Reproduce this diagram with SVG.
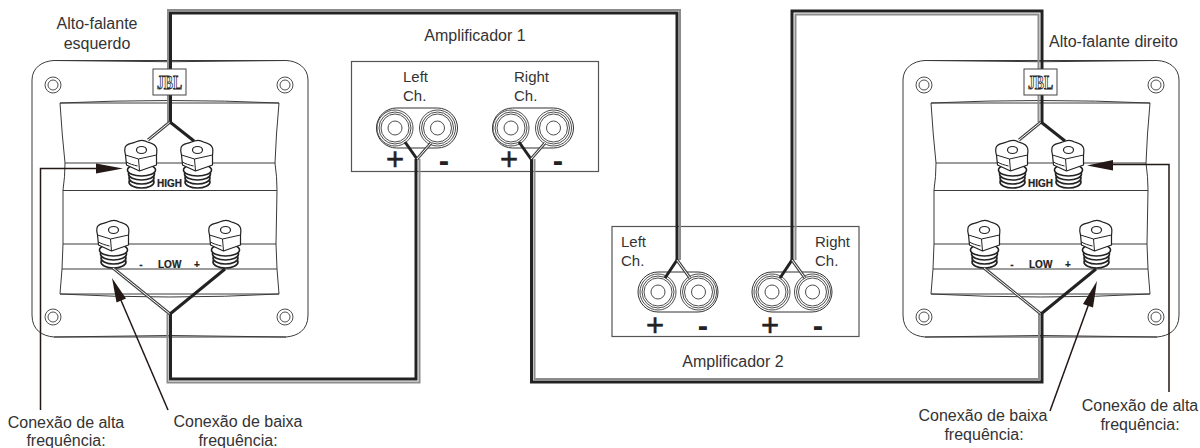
<svg xmlns="http://www.w3.org/2000/svg" xmlns:xlink="http://www.w3.org/1999/xlink" width="1200" height="448" viewBox="0 0 1200 448">
<style>
text{font-family:"Liberation Sans",Arial,sans-serif;font-size:16px;fill:#333}
.m{text-anchor:middle}
.s{font-size:15px}
.b{font-weight:bold;font-size:10px;fill:#222;stroke:#222;stroke-width:.2}
.ps{font-size:31px;fill:#222;stroke:#222;stroke-width:.5;text-anchor:middle}
.ms{font-size:31px;font-weight:bold;fill:#222;text-anchor:middle}
.ln{fill:none;stroke:#3a3a3a;stroke-width:1}
.pl{fill:#fff;stroke:#3a3a3a;stroke-width:1}
.pt{fill:#fff;stroke:#222;stroke-width:1.2;stroke-linejoin:round}
.th{fill:#fff;stroke:#222;stroke-width:1.6}
.hx{fill:none;stroke:#222;stroke-width:1}
.k{fill:none;stroke:#222;stroke-width:3;stroke-linejoin:miter}
.g{fill:none;stroke:#8c8c8c;stroke-width:2}
.d1{fill:none;stroke:#444;stroke-width:3}
.d2{fill:none;stroke:#fff;stroke-width:1}
.ar{fill:none;stroke:#231815;stroke-width:1.5}
.ah{fill:#231815}
.box{fill:#fff;stroke:#555;stroke-width:1.2}
.c{fill:#fff;stroke:#3a3a3a;stroke-width:.9}
.jb{font-family:"Liberation Serif",serif;font-weight:bold;font-size:19px;fill:#fff;stroke:#222;stroke-width:.9}
</style>
<defs>
<g id="post">
<ellipse class="th" cx="0" cy="32" rx="12.500" ry="6"/>
<ellipse class="th" cx="0" cy="28" rx="12.500" ry="6"/>
<ellipse class="th" cx="0" cy="24" rx="13" ry="6"/>
<ellipse class="th" cx="0" cy="20" rx="14" ry="6"/>
<path class="pt" d="M-16.500,-2C-16,-7 -10,-6 -6,-8C-2,-10 3,-10 6,-8C9,-7 14,-6 15,-2C16,1 15,3 15,6L15,15L-2,21L-15,15L-16,5C-17,2 -17,0 -16.500,-2Z"/>
<path class="hx" d="M-16,5L-3,9L15,5M-3,9L-2,21M-15,12C-12,14 -8,15 -4,16"/>
<ellipse class="pt" cx="0" cy="0" rx="5" ry="3.500"/>
</g>
<g id="screw"><circle class="c" r="8"/><circle class="c" r="5"/></g>
<g id="logo">
<rect x="153" y="69" width="33" height="26" fill="#fff" stroke="#444" stroke-width="1"/>
<text class="jb m" x="169.500" y="89" textLength="25" lengthAdjust="spacingAndGlyphs">JBL</text>
</g>
<g id="plate">
<path class="pl" d="M32,80C32,68 42,61 54,60.500Q170,63 286,60.500C298,61 308,68 308,80L308,315C308,330 298,336 286,337Q170,334 54,337C42,336 32,330 32,315Z"/>
<path class="ln" d="M54,60.500L286,60.500M54,337L286,337"/>
<use href="#screw" x="53" y="85"/><use href="#screw" x="285" y="85"/><use href="#screw" x="53" y="317"/><use href="#screw" x="285" y="317"/>
<path class="pl" d="M60,103Q170,98 279,103Q276,135 275,163Q277,177 277,190L276,244L277,269L279,294Q170,300 60,294L62,269L63,244L63,190Q65,177 65,163Q62,135 60,103Z"/>
<path class="ln" d="M60,103L279,103M60,294L279,294M65,163H275M63,190.500H277M63,244H276M62,269H277"/>
<use href="#post" x="141.500" y="150"/><use href="#post" x="197.500" y="150"/>
<use href="#post" x="113.500" y="230"/><use href="#post" x="225.500" y="230"/>
<text class="b" x="157" y="187">HIGH</text>
<text class="b" x="158" y="268">LOW</text>
<text class="b m" x="141" y="268">-</text>
<text class="b m" x="197" y="268">+</text>
</g>
<g id="jack">
<circle class="c" r="18"/><circle class="c" r="16"/><circle class="c" r="14"/><circle class="c" r="7"/>
</g>
<g id="pair">
<rect x="-18.500" y="-20" width="81" height="40" rx="20" fill="#fff" stroke="#333" stroke-width="1"/>
<use href="#jack"/><use href="#jack" x="42.500"/>
</g>
<g id="pair2">
<rect x="-20" y="-20" width="80" height="40" rx="20" fill="#fff" stroke="#333" stroke-width="1"/>
<use href="#jack"/><use href="#jack" x="40.500"/>
</g>
</defs>

<g id="speaker-left"><use href="#plate"/></g>
<g id="speaker-right"><use href="#plate" x="871"/></g>

<g id="amp-1">
<rect class="box" x="351.500" y="61.500" width="247" height="110"/>
<use href="#pair" x="395" y="128"/><use href="#pair" x="511" y="128"/>
<text class="s" x="403" y="82">Left</text><text class="s" x="403" y="101">Ch.</text>
<text class="s" x="514" y="82">Right</text><text class="s" x="514" y="101">Ch.</text>
<text class="ps" x="395" y="170">+</text><text class="ms" x="444" y="171">-</text>
<text class="ps" x="509" y="170">+</text><text class="ms" x="558" y="171">-</text>
<text class="m" x="475" y="41">Amplificador 1</text>
</g>
<g id="amp-2">
<rect class="box" x="612" y="226.500" width="247" height="110"/>
<use href="#pair2" x="658" y="292"/><use href="#pair2" x="772" y="292"/>
<text class="s" x="621" y="247">Left</text><text class="s" x="621" y="266">Ch.</text>
<text class="s" x="815" y="247">Right</text><text class="s" x="815" y="266">Ch.</text>
<text class="ps" x="655" y="336">+</text><text class="ms" x="703" y="336">-</text>
<text class="ps" x="770" y="336">+</text><text class="ms" x="818" y="336">-</text>
<text class="m" x="733" y="367">Amplificador 2</text>
</g>

<g id="connectors">
<path class="g" d="M168,122V10H680V260"/>
<path class="k" d="M170.500,122V13H677V260"/>
<path class="g" d="M1038.500,122V14.500H795.500V260"/>
<path class="k" d="M1042,122V11H792V260"/>
<path class="g" d="M419.500,159V382.500H167.500V314"/>
<path class="k" d="M416,159V379H170.500V314"/>
<path class="g" d="M534.500,159V379H1039V314"/>
<path class="k" d="M531.500,159V382H1042V314"/>
<path class="d1" d="M170,122L148,140"/><path class="d2" d="M170,122L148,140"/>
<path class="k" d="M170,122L194,141"/>
<path class="d1" d="M170,314L113,268"/><path class="d2" d="M170,314L113,268"/>
<path class="k" d="M170,314L225,269"/>
<path class="d1" d="M1041,122L1019,140"/><path class="d2" d="M1041,122L1019,140"/>
<path class="k" d="M1041,122L1065,141"/>
<path class="d1" d="M1041,314L984,268"/><path class="d2" d="M1041,314L984,268"/>
<path class="k" d="M1041,314L1096,269"/>
<path class="k" d="M417,159L405,142"/>
<path class="d1" d="M417,159L431,143"/><path class="d2" d="M417,159L431,143"/>
<path class="k" d="M531,159L519,142"/>
<path class="d1" d="M531,159L545,143"/><path class="d2" d="M531,159L545,143"/>
<path class="k" d="M677,260L665,278"/>
<path class="d1" d="M677,260L690,278"/><path class="d2" d="M677,260L690,278"/>
<path class="k" d="M792,260L780,278"/>
<path class="d1" d="M792,260L805,278"/><path class="d2" d="M792,260L805,278"/>
<path class="ar" d="M40.500,410V168.500H100"/>
<path class="ah" d="M123,168.500L96,163.500V173.500Z"/>
<path class="ar" d="M168,410L117,291"/>
<path class="ah" d="M112,278L116.500,302.500L126,298.500Z"/>
<path class="ar" d="M1169,392V164.500H1110"/>
<path class="ah" d="M1087,165.500L1113,160V170.500Z"/>
<path class="ar" d="M1050,411L1092,295"/>
<path class="ah" d="M1097,281L1083,304L1093,307.500Z"/>
</g>

<g id="logo-left"><use href="#logo"/></g>
<g id="logo-right"><use href="#logo" x="871"/></g>

<g id="labels">
<text class="m" x="97" y="29">Alto-falante</text>
<text class="m" x="97" y="49">esquerdo</text>
<text x="1049" y="47">Alto-falante direito</text>
<text class="m" x="66" y="428">Conexão de alta</text>
<text class="m" x="66" y="446">frequência:</text>
<text class="m" x="238" y="427">Conexão de baixa</text>
<text class="m" x="238" y="446">frequência:</text>
<text class="m" x="983" y="421">Conexão de baixa</text>
<text class="m" x="984" y="440">frequência:</text>
<text class="m" x="1140" y="411">Conexão de alta</text>
<text class="m" x="1140" y="430">frequência:</text>
</g>
</svg>
